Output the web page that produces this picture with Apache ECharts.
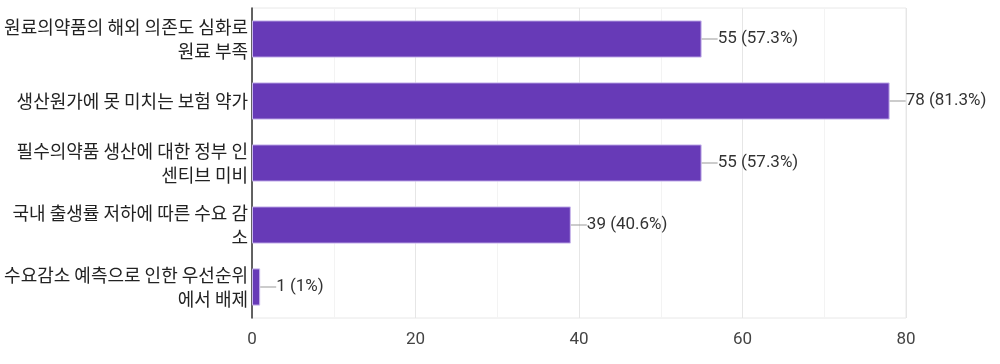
<!DOCTYPE html>
<html><head><meta charset="utf-8">
<script src="https://cdn.jsdelivr.net/npm/echarts@6/dist/echarts.min.js"></script>
<style>html,body{margin:0;padding:0;background:#fff}#c{width:1000px;height:364px}</style>
</head><body><div id="c"></div>
<script>
const categories = [
  '원료의약품의 해외 의존도 심화로\n원료 부족',
  '생산원가에 못 미치는 보험 약가',
  '필수의약품 생산에 대한 정부 인\n센티브 미비',
  '국내 출생률 저하에 따른 수요 감\n소',
  '수요감소 예측으로 인한 우선순위\n에서 배제'
];
const counts = [55, 78, 55, 39, 1];
const percents = ['57.3%', '81.3%', '57.3%', '40.6%', '1%'];
const xTicks = [0, 20, 40, 60, 80];

const numFont = "Roboto, sans-serif";
const krFont = "'Noto Sans CJK KR', sans-serif";
const chart = echarts.init(document.getElementById('c'));
chart.setOption({
  animation: false,
  grid: { left: 252, right: 94, top: 8, bottom: 46, show: true, borderColor: '#e8e8e8', borderWidth: 1 },
  xAxis: {
    type: 'value', min: 0, max: 80, interval: 10,
    axisLine: { show: false }, axisTick: { show: false },
    splitLine: { lineStyle: { color: ['#e6e6e6', '#f3f3f3', '#e6e6e6', '#f3f3f3', '#e6e6e6', '#f3f3f3', '#e6e6e6', '#f3f3f3', '#e6e6e6'], width: 1 } },
    axisLabel: {
      color: '#444', fontSize: 17, fontFamily: numFont, margin: 13,
      formatter: v => xTicks.includes(v) ? String(v) : ''
    }
  },
  yAxis: {
    type: 'category', inverse: true, data: categories,
    axisLine: { show: true, lineStyle: { color: '#333', width: 1.5 } },
    axisTick: { show: false },
    axisLabel: { color: '#222', fontSize: 18, lineHeight: 24, fontFamily: krFont, margin: 4 }
  },
  series: [{
    type: 'bar', data: counts, barWidth: '60%',
    itemStyle: { color: '#673ab7', borderColor: '#c9b8ec', borderWidth: 1 },
    label: {
      show: true, position: 'right', distance: 0,
      fontFamily: numFont, fontSize: 17, color: '#333',
      formatter: p => '{l|}' + counts[p.dataIndex] + ' (' + percents[p.dataIndex] + ')',
      rich: { l: { width: 16, height: 1, backgroundColor: '#999', verticalAlign: 'middle' } }
    }
  }]
});
</script></body></html>
